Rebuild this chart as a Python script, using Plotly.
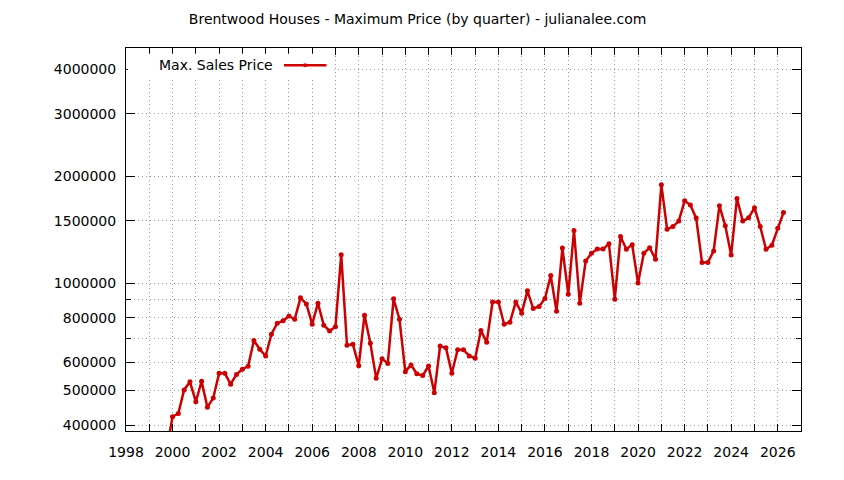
import pandas as pd
import plotly.graph_objects as go

# Precio máximo por trimestre (primer trimestre visible: 1999 Q4)
first_quarter = "1999-10-01"
max_price = [
    340000,
    422000, 431000, 502000, 529000,
    465000, 531000, 449000, 476000,
    559000, 559000, 521000, 555000,
    574000, 585000, 691000, 653000,
    625000, 720000, 773000, 785000,
    810000, 793000, 911000, 876000,
    768000, 880000, 763000, 735000,
    756000, 1203000, 670000, 675000,
    587000, 814000, 679000, 541000,
    614000, 596000, 905000, 793000,
    565000, 590000, 557000, 551000,
    586000, 493000, 667000, 659000,
    559000, 651000, 651000, 625000,
    616000, 737000, 683000, 887000,
    887000, 768000, 778000, 887000,
    825000, 953000, 850000, 861000,
    907000, 1052000, 835000, 1257000,
    933000, 1408000, 880000, 1156000,
    1216000, 1249000, 1249000, 1292000,
    903000, 1354000, 1248000, 1284000,
    1002000, 1216000, 1259000, 1170000,
    1893000, 1421000, 1445000, 1497000,
    1707000, 1660000, 1526000, 1145000,
    1145000, 1234000, 1652000, 1452000,
    1201000, 1733000, 1497000, 1529000,
    1631000, 1445000, 1248000, 1281000,
    1430000, 1582000,
]
quarters = pd.date_range(first_quarter, periods=len(max_price), freq="QS")

y_ticks = [400000, 500000, 600000, 800000, 1000000, 1500000, 2000000, 3000000, 4000000]
y_minor = [700000, 900000]

RED = "#cc0000"
GRID = "#9a9a9a"
FONT = "DejaVu Sans"

fig = go.Figure()
fig.add_trace(go.Scatter(
    x=quarters,
    y=max_price,
    mode="lines+markers",
    name="Max. Sales Price",
    line=dict(color=RED, width=2.5),
    marker=dict(color=RED, size=5),
    cliponaxis=True,
    showlegend=False,
))

# Leyenda estilo gnuplot: texto y muestra a la derecha
fig.add_shape(type="rect", xref="paper", yref="paper",
              x0=0.003, x1=0.309, y0=0.922, y1=0.985,
              fillcolor="white", line=dict(width=0), layer="above")
fig.add_shape(type="line", xref="paper", yref="paper",
              x0=0.234, x1=0.297, y0=0.955, y1=0.955,
              line=dict(color=RED, width=2.5), layer="above")
fig.add_shape(type="circle", xref="paper", yref="paper",
              x0=0.2623, x1=0.2683, y0=0.9497, y1=0.9603,
              fillcolor=RED, line=dict(width=0), layer="above")
fig.add_annotation(text="Max. Sales Price", xref="paper", yref="paper",
                   x=0.221, y=0.955, xanchor="right", yanchor="middle",
                   showarrow=False, font=dict(family=FONT, size=14, color="black"))

axis_common = dict(
    showline=True, linecolor="black", linewidth=1, mirror="ticks",
    ticks="inside", tickcolor="black",
    showgrid=True, gridcolor=GRID, griddash="1px,3px", gridwidth=1,
    zeroline=False,
    tickfont=dict(family=FONT, size=14, color="black"),
)

fig.update_xaxes(
    type="date",
    range=["1998-01-01", "2027-01-01"],
    dtick="M24", tick0="1998-01-01", tickformat="%Y",
    ticklen=7, ticklabelstandoff=8,
    minor=dict(dtick="M12", tick0="1998-01-01", ticks="inside", ticklen=7,
               tickcolor="black", showgrid=True, gridcolor=GRID, griddash="1px,3px"),
    **axis_common,
)
fig.update_yaxes(
    type="log",
    range=[5.5852, 6.6617],
    tickmode="array", tickvals=y_ticks, ticktext=[str(v) for v in y_ticks],
    ticklen=9, ticklabelstandoff=6,
    minor=dict(tickmode="array", tickvals=y_minor, ticks="inside", ticklen=5,
               tickcolor="black", showgrid=True, gridcolor=GRID, griddash="1px,3px"),
    **axis_common,
)

# la página añade 8px de margen, el tamaño se compensa
fig.update_layout(
    width=836, height=472,
    margin=dict(l=118, r=43, t=40, b=49),
    paper_bgcolor="white", plot_bgcolor="white",
    title=dict(text="Brentwood Houses - Maximum Price (by quarter) - julianalee.com",
               x=0.490, xanchor="center", y=0.977, yanchor="middle",
               font=dict(family=FONT, size=14, color="black")),
    showlegend=False,
)

fig.write_html("out.html")
